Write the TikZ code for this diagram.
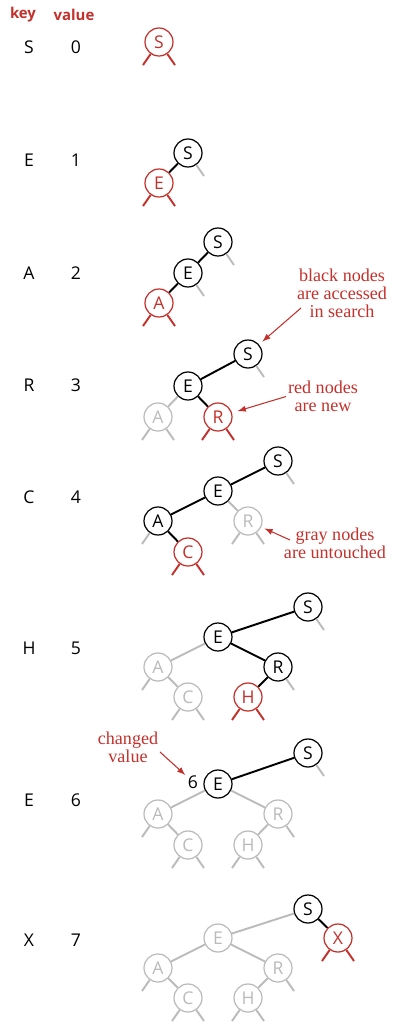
\documentclass[tikz,border=0pt]{standalone}
\usepackage{fontspec}
\setmainfont{Liberation Serif}
\setsansfont{Open Sans}
\usetikzlibrary{arrows.meta}
\definecolor{bstRed}{HTML}{C4302B}
\definecolor{bstGray}{HTML}{BBBBBB}

\begin{document}
\begin{tikzpicture}[
  x=0.2mm, y=-0.2mm,
  every node/.style={font=\sffamily\fontsize{10}{12}\selectfont},
  head/.style={
    font=\sffamily\bfseries\fontsize{8.5}{10}\selectfont,
    text=bstRed
  },
  bnode/.style={
    circle,
    draw=black,
    fill=white,
    line width=0.7pt,
    minimum size=5.6mm,
    inner sep=0pt
  },
  rnode/.style={bnode, draw=bstRed, text=bstRed},
  gnode/.style={bnode, draw=bstGray, text=bstGray},
  bedge/.style={draw, line width=1.1pt},
  gedge/.style={draw=bstGray, line width=1.1pt},
  redge/.style={draw=bstRed, line width=1.1pt},
  note/.style={
    font=\rmfamily\fontsize{10.3}{10.3}\selectfont,
    text=bstRed,
    align=center,
    inner sep=0pt
  },
  notearrow/.style={draw=bstRed, line width=0.6pt, -latex}
]
\useasboundingbox (0,0) rectangle (394,1029);

\node[head] (keyhead) at (23,15) {key};
\node[head] (valhead) at (74,15) {value};

\node (key0) at (29,47) {S};   \node (val0) at (76,47) {0};
\node (key1) at (29,160) {E};  \node (val1) at (76,160) {1};
\node (key2) at (29,273) {A};  \node (val2) at (76,273) {2};
\node (key3) at (29,385) {R};  \node (val3) at (76,385) {3};
\node (key4) at (29,497) {C};  \node (val4) at (76,497) {4};
\node (key5) at (29,648) {H};  \node (val5) at (76,648) {5};
\node (key6) at (29,800) {E};  \node (val6) at (76,800) {6};
\node (key7) at (29,940) {X};  \node (val7) at (76,940) {7};

% S 0
\node[rnode] (s0) at (159,42) {S};
\draw[redge] (s0) -- +(-16,23);
\draw[redge] (s0) -- +(16,23);

% E 1
\node[bnode] (s1) at (188,153) {S};
\node[rnode] (e1) at (159,183) {E};
\draw[bedge] (s1) -- (e1);
\draw[gedge] (s1) -- +(16,23);
\draw[redge] (e1) -- +(-16,23);
\draw[redge] (e1) -- +(16,23);

% A 2
\node[bnode] (s2) at (218,242) {S};
\node[bnode] (e2) at (188,273) {E};
\node[rnode] (a2) at (159,303) {A};
\draw[bedge] (s2) -- (e2);
\draw[bedge] (e2) -- (a2);
\draw[gedge] (s2) -- +(16,23);
\draw[gedge] (e2) -- +(16,23);
\draw[redge] (a2) -- +(-16,23);
\draw[redge] (a2) -- +(16,23);

% R 3
\node[bnode] (s3) at (248,354) {S};
\node[bnode] (e3) at (188,386) {E};
\node[gnode] (a3) at (158,417) {A};
\node[rnode] (r3) at (218,417) {R};
\draw[bedge] (s3) -- (e3);
\draw[gedge] (e3) -- (a3);
\draw[bedge] (e3) -- (r3);
\draw[gedge] (s3) -- +(16,23);
\draw[gedge] (a3) -- +(-16,23);
\draw[gedge] (a3) -- +(16,23);
\draw[redge] (r3) -- +(-16,23);
\draw[redge] (r3) -- +(16,23);

% C 4
\node[bnode] (s4) at (278,461) {S};
\node[bnode] (e4) at (218,491) {E};
\node[bnode] (a4) at (158,521) {A};
\node[gnode] (r4) at (248,521) {R};
\node[rnode] (c4) at (188,552) {C};
\draw[bedge] (s4) -- (e4);
\draw[bedge] (e4) -- (a4);
\draw[gedge] (e4) -- (r4);
\draw[bedge] (a4) -- (c4);
\draw[gedge] (s4) -- +(16,23);
\draw[gedge] (a4) -- +(-16,23);
\draw[gedge] (r4) -- +(-16,23);
\draw[gedge] (r4) -- +(16,23);
\draw[redge] (c4) -- +(-16,23);
\draw[redge] (c4) -- +(16,23);

% H 5
\node[bnode] (s5) at (308,607) {S};
\node[bnode] (e5) at (218,637) {E};
\node[gnode] (a5) at (158,667) {A};
\node[bnode] (r5) at (278,667) {R};
\node[gnode] (c5) at (188,697) {C};
\node[rnode] (h5) at (248,697) {H};
\draw[bedge] (s5) -- (e5);
\draw[gedge] (e5) -- (a5);
\draw[bedge] (e5) -- (r5);
\draw[gedge] (a5) -- (c5);
\draw[bedge] (r5) -- (h5);
\draw[gedge] (s5) -- +(16,23);
\draw[gedge] (a5) -- +(-16,23);
\draw[gedge] (r5) -- +(16,23);
\draw[gedge] (c5) -- +(-16,23);
\draw[gedge] (c5) -- +(16,23);
\draw[redge] (h5) -- +(-16,23);
\draw[redge] (h5) -- +(16,23);

% E 6
\node[bnode] (s6) at (308,753) {S};
\node[bnode] (e6) at (218,784) {E};
\node[gnode] (a6) at (158,814) {A};
\node[gnode] (r6) at (278,814) {R};
\node[gnode] (c6) at (188,845) {C};
\node[gnode] (h6) at (248,845) {H};
\node[inner sep=1pt] (six) at (193,782) {6};
\draw[bedge] (s6) -- (e6);
\draw[gedge] (e6) -- (a6);
\draw[gedge] (e6) -- (r6);
\draw[gedge] (a6) -- (c6);
\draw[gedge] (r6) -- (h6);
\draw[gedge] (s6) -- +(16,23);
\draw[gedge] (a6) -- +(-16,23);
\draw[gedge] (r6) -- +(16,23);
\draw[gedge] (c6) -- +(-16,23);
\draw[gedge] (c6) -- +(16,23);
\draw[gedge] (h6) -- +(-16,23);
\draw[gedge] (h6) -- +(16,23);

% X 7
\node[bnode] (s7) at (308,909) {S};
\node[gnode] (e7) at (218,938) {E};
\node[rnode] (x7) at (338,938) {X};
\node[gnode] (a7) at (158,968) {A};
\node[gnode] (r7) at (278,968) {R};
\node[gnode] (c7) at (188,998) {C};
\node[gnode] (h7) at (248,998) {H};
\draw[gedge] (s7) -- (e7);
\draw[bedge] (s7) -- (x7);
\draw[gedge] (e7) -- (a7);
\draw[gedge] (e7) -- (r7);
\draw[gedge] (a7) -- (c7);
\draw[gedge] (r7) -- (h7);
\draw[redge] (x7) -- +(-16,23);
\draw[redge] (x7) -- +(16,23);
\draw[gedge] (a7) -- +(-16,23);
\draw[gedge] (r7) -- +(16,23);
\draw[gedge] (c7) -- +(-16,23);
\draw[gedge] (c7) -- +(16,23);
\draw[gedge] (h7) -- +(-16,23);
\draw[gedge] (h7) -- +(16,23);

% notes
\node[note] (blacknote) at (342,293) {black nodes\\are accessed\\in search};
\node[note] (rednote) at (323,396) {red nodes\\are new};
\node[note] (graynote) at (335,543) {gray nodes\\are untouched};
\node[note] (changednote) at (128,747) {changed\\value};

\coordinate (blackfrom) at (301,308);
\coordinate (grayfrom) at (290,540);
\coordinate (changedfrom) at (160,752);

\draw[notearrow, shorten >=2.5pt] (blackfrom) -- (s3);
\draw[notearrow, shorten <=1pt, shorten >=3.4pt] (rednote.west) -- (r3);
\draw[notearrow, shorten >=2pt] (grayfrom) -- (r4);
\draw[notearrow, shorten >=0.5pt] (changedfrom) -- (six);

\end{tikzpicture}
\end{document}
